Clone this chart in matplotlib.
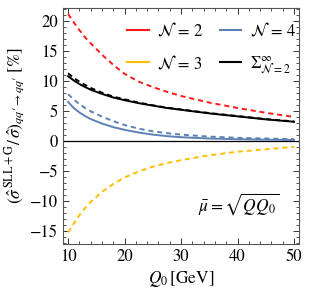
import matplotlib
matplotlib.use("Agg")
import matplotlib.pyplot as plt
from matplotlib.ticker import MultipleLocator
from matplotlib.lines import Line2D

plt.rcParams['mathtext.fontset'] = 'stix'
plt.rcParams['font.family'] = ['STIXGeneral', 'DejaVu Serif']

Q0 = [10, 11, 12, 13, 14, 16, 18, 20, 22.5, 25, 27.5, 30, 35, 40, 45, 50]
n2 = [21.2, 19.8, 18.5, 17.3, 16.3, 14.4, 12.7, 11.2, 9.9, 9.0, 8.2, 7.5, 6.4, 5.5, 4.7, 4.0]
n3 = [-15.3, -13.8, -12.4, -11.2, -10.2, -8.5, -7.2, -6.1, -5.1, -4.3, -3.7, -3.2, -2.4, -1.8, -1.4, -1.0]
n4_solid = [6.5, 5.5, 4.75, 4.15, 3.65, 2.9, 2.3, 1.85, 1.4, 1.05, 0.8, 0.62, 0.4, 0.28, 0.2, 0.15]
n4_dashed = [7.8, 6.9, 6.15, 5.5, 4.95, 4.05, 3.3, 2.65, 2.05, 1.6, 1.3, 1.05, 0.72, 0.52, 0.4, 0.3]
sum_solid = [10.8, 10.1, 9.5, 9.0, 8.55, 7.85, 7.25, 6.8, 6.3, 5.9, 5.5, 5.2, 4.6, 4.1, 3.6, 3.2]
sum_dashed = [11.3, 10.5, 9.9, 9.35, 8.85, 8.05, 7.4, 6.95, 6.4, 5.95, 5.55, 5.25, 4.65, 4.15, 3.65, 3.25]

labels = [r'$\mathcal{N}\,=\,2$', r'$\mathcal{N}\,=\,3$', r'$\mathcal{N}\,=\,4$', r'$\Sigma_{\mathcal{N}=2}^{\infty}$']
red = '#ff1a1a'
yellow = '#ffbf00'
blue = '#5e81b5'

fig = plt.figure(figsize=(3.09, 2.96), dpi=100)
ax = fig.add_axes([0.204, 0.176, 0.764, 0.797])

dash = (0, (2.6, 2.0))
ax.axhline(0, color='black', lw=0.9)
ax.plot(Q0, n2, color=red, lw=1.4, ls=dash)
ax.plot(Q0, n3, color=yellow, lw=1.4, ls=dash)
ax.plot(Q0, n4_solid, color=blue, lw=1.4)
ax.plot(Q0, n4_dashed, color=blue, lw=1.4, ls=dash)
ax.plot(Q0, sum_solid, color='black', lw=1.4)
ax.plot(Q0, sum_dashed, color='black', lw=1.4, ls=dash)

ax.set_xlim(9.1, 50.9)
ax.set_ylim(-17.2, 22.2)
ax.xaxis.set_major_locator(MultipleLocator(10))
ax.xaxis.set_minor_locator(MultipleLocator(2))
ax.yaxis.set_major_locator(MultipleLocator(5))
ax.yaxis.set_minor_locator(MultipleLocator(1))
ax.tick_params(which='both', direction='in', top=True, right=True, labelsize=12, colors='#333333', labelcolor='black')
ax.tick_params(which='major', length=4, width=0.7)
ax.tick_params(which='minor', length=2, width=0.6)
for s in ax.spines.values():
    s.set_color('#555555')
    s.set_linewidth(0.8)

handles = [Line2D([], [], color=red, lw=1.5), Line2D([], [], color=yellow, lw=1.5),
           Line2D([], [], color=blue, lw=1.5), Line2D([], [], color='black', lw=1.5)]
ax.legend(handles, labels, ncol=2, loc='upper left', bbox_to_anchor=(127 / 309, 1 - 22 / 296),
          bbox_transform=fig.transFigure, frameon=False, fontsize=12,
          handlelength=1.3, handletextpad=0.5, columnspacing=1.0, labelspacing=0.85,
          borderaxespad=0, borderpad=0)

ax.text(198 / 309, 1 - 204 / 296, r'$\bar{\mu}=\sqrt{QQ_0}$', transform=fig.transFigure, fontsize=12.5, va='center')

ax.set_xlabel(r'$Q_0\,[\mathrm{GeV}]$', fontsize=12.5, labelpad=3)
ax.set_ylabel("$\\left(\\hat{\\sigma}^{\\,\\mathrm{SLL+G}}/\\,\\hat{\\sigma}\\right)_{qq\u2032\\to qq\u2032}\\;[\\%]$", fontsize=12.5, labelpad=2)

fig.savefig('out.png', dpi=100)
